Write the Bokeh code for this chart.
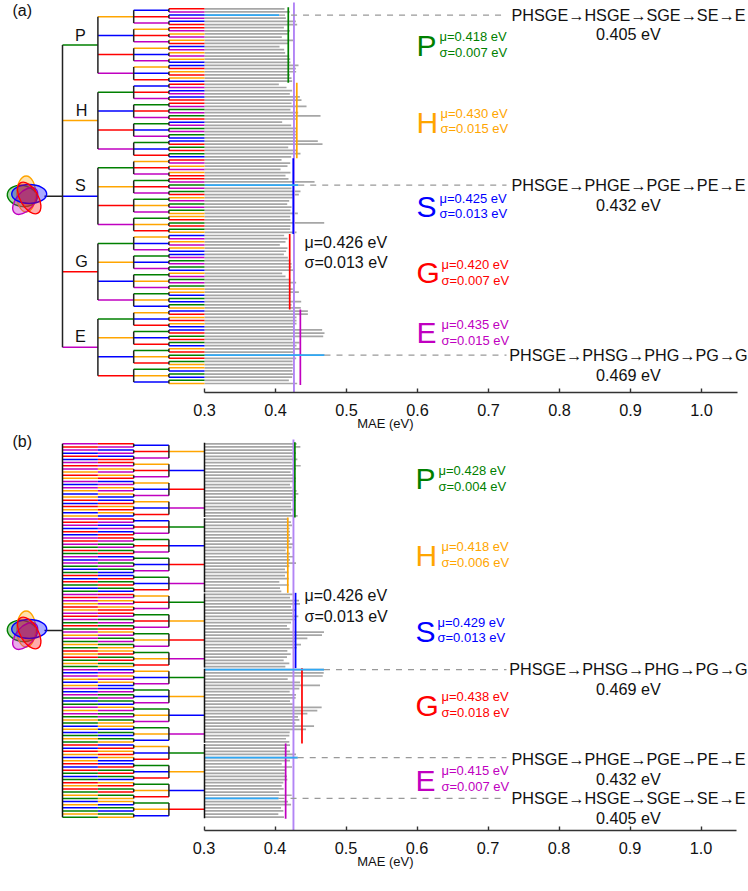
from itertools import permutations
import math
from bokeh.plotting import figure
from bokeh.layouts import column
from bokeh.models import Range1d, FixedTicker, NumeralTickFormatter
from bokeh.core.properties import value
from bokeh.embed import file_html
from bokeh.resources import INLINE

letters = ["P", "H", "S", "G", "E"]
colors = {"P": "#008000", "H": "#ffa500", "S": "#0000ff", "G": "#ff0000", "E": "#c000c0"}

# MAE (eV) of every removal order, in the order of panel (a)
mae_P = [.4127,.4202,.405,.4146,.4287,.4305,.4118,.4202,.4174,.4089,.4249,.4188,
         .4057,.4122,.4136,.4193,.4207,.4211,.4324,.4287,.4291,.4202,.4226,.4235]
mae_H = [.4047,.4155,.4235,.4202,.4343,.4366,.4226,.4437,.4211,.4319,.4634,.4296,
         .4094,.4221,.4296,.4287,.4287,.4296,.4596,.4662,.4179,.4305,.4352,.4221]
mae_S = [.4085,.4207,.4169,.4071,.4211,.4141,.4183,.4550,.432,.4226,.4352,.4329,
         .4240,.4193,.4165,.4226,.4211,.4315,.4207,.4211,.4686,.4211,.4207,.4296]
mae_G = [.4122,.4169,.4141,.4061,.4169,.4150,.4118,.4174,.4211,.4226,.4226,.4263,
         .4094,.4141,.4211,.4291,.4211,.4244,.4329,.4211,.4211,.4362,.4226,.4357]
mae_E = [.4456,.4456,.4296,.4296,.4296,.4258,.4657,.4690,.4672,.4235,.4338,.4296,
         .4343,.4258,.469,.4291,.4240,.4244,.4244,.4235,.4249,.4235,.4188,.4305]
mae_all = mae_P + mae_H + mae_S + mae_G + mae_E

overall_mu, overall_sigma = 0.426, 0.013
mu_a = [0.418, 0.430, 0.425, 0.420, 0.435]
sigma_a = [0.007, 0.015, 0.013, 0.007, 0.015]
mu_b = [0.428, 0.418, 0.429, 0.438, 0.415]
sigma_b = [0.004, 0.006, 0.013, 0.018, 0.007]

tick_values = [0.3, 0.4, 0.5, 0.6, 0.7, 0.8, 0.9, 1.0]
highlight_paths = {
    ("P", "H", "G", "S", "E"): ("PHSGE\u2192HSGE\u2192SGE\u2192SE\u2192E", 0.405),
    ("S", "H", "G", "P", "E"): ("PHSGE\u2192PHGE\u2192PGE\u2192PE\u2192E", 0.432),
    ("E", "S", "H", "P", "G"): ("PHSGE\u2192PHSG\u2192PHG\u2192PG\u2192G", 0.469),
}

perms = list(permutations(letters))
mae_of = dict(zip(perms, mae_all))

PX_PER_EV = 710.0
FONT = value("Liberation Sans")
GRAY, CYAN, PURPLE, DASH = "#a6a6a6", "#2fa8f5", "#b285f5", "#999999"
COLS = [62, 97.4, 133.2, 168.4, 204]
W = 748


def make_fig(height, frame_h, y0, dy, top, shift):
    """Frame spans the page px rows top..top+frame_h; y data are row numbers."""
    mx = lambda px: 0.3 + (px - 204 - shift) / PX_PER_EV
    ry = lambda py: (py - y0) / dy
    p = figure(width=W, height=height, output_backend="svg", toolbar_location=None,
               x_range=Range1d(mx(0), mx(W)),
               y_range=Range1d(ry(top + frame_h), ry(top)),
               y_axis_location=None, min_border_left=0, min_border_right=0,
               min_border_top=0, min_border_bottom=height - frame_h,
               outline_line_color=None, background_fill_color="white")
    p.grid.visible = False
    ax = p.xaxis[0]
    ax.ticker = FixedTicker(ticks=tick_values)
    ax.formatter = NumeralTickFormatter(format="0.0")
    ax.bounds = (0.3, 1.05)
    ax.major_tick_in, ax.major_tick_out = 4, 0
    ax.minor_tick_line_color = None
    ax.axis_line_color = ax.major_tick_line_color = "#333333"
    ax.axis_line_width = ax.major_tick_line_width = 1.4
    ax.major_label_text_font = "Liberation Sans"
    ax.major_label_text_font_size = "16.3px"
    ax.major_label_text_color = "#111111"
    ax.major_label_standoff = 11
    ax.axis_label = "\u00a0" * 6 + "MAE (eV)"
    ax.axis_label_text_font = "Liberation Sans"
    ax.axis_label_text_font_size = "13px"
    ax.axis_label_text_font_style = "normal"
    ax.axis_label_text_color = "#111111"
    ax.axis_label_standoff = -3
    return p, mx, ry


def text(p, mx, ry, px, py, s, color="#111111", size="16.2px", align="left"):
    p.text(x=[mx(px)], y=[ry(py)], text=[s], text_font=FONT, text_font_size=value(size),
           text_color=color, text_align=align, text_baseline="middle")


def flower(p, mx, ry, cx, cy):
    # offset from the centre in px, length, thickness, clockwise angle on screen
    petals = [("P", -5, 1, 30, 21, 10), ("H", -1, -1, 36, 19, 90), ("E", -2, 6, 32, 18, 131),
              ("S", 2, -1, 35, 19, 0), ("G", 2, 3, 35, 18, 60)]
    for key, dx, dy, length, thick, ang in petals:
        p.ellipse(x=[mx(cx + dx)], y=[ry(cy + dy)], width=length, height=thick,
                  width_units="screen", height_units="screen", angle=math.radians(-ang),
                  fill_color=colors[key], fill_alpha=0.33, line_color=colors[key], line_width=1.4)


def tree_lines(p, mx, segs, width):
    x0 = [mx(s[0]) for s in segs]
    x1 = [mx(s[1]) for s in segs]
    y0 = [s[2] for s in segs]
    y1 = [s[3] for s in segs]
    c = [s[4] for s in segs]
    p.segment(x0=x0, x1=x1, y0=y0, y1=y1, line_color=c, line_width=width)


def bars_and_means(p, mx, ry, vals, mu, top_px, bottom_px):
    rows = list(range(120))
    p.hbar(y=rows, left=0.3, right=vals, height=0.55, fill_color=GRAY, line_color=None)
    p.segment(x0=[overall_mu], x1=[overall_mu], y0=[ry(top_px)], y1=[ry(bottom_px)],
              line_color=PURPLE, line_width=1.9)
    for k, key in enumerate(letters):
        p.segment(x0=[mu[k]], x1=[mu[k]], y0=[24 * k - 0.5], y1=[24 * k + 23.5],
                  line_color=colors[key], line_width=1.7)


def highlights(p, mx, order):
    for path, (label, val) in highlight_paths.items():
        r = order.index(path)
        p.hbar(y=[r], left=0.3, right=[val], height=0.55, fill_color=CYAN, line_color=None)
        p.segment(x0=[val], x1=[mx(506)], y0=[r], y1=[r], line_color=DASH, line_width=1.3,
                  line_dash="6 6")


# ---------------- panel (a) ----------------
pa, mx, ry = make_fig(433, 393, 8.3, 3.157, 0, 0)
vals_a = [mae_of[q] for q in perms]
bars_and_means(pa, mx, ry, vals_a, mu_a, 2, 394)
highlights(pa, mx, perms)

col_segs, blk_segs = [], []
for d, span in zip([1, 2, 3, 4], [24, 6, 2, 1]):
    for start in range(0, 120, span):
        mid = start + (span - 1) / 2
        q = perms[start]
        col_segs.append((COLS[d - 1], COLS[d], mid, mid, colors[q[d - 1]]))
        if d < 4:
            sub = {24: 6, 6: 2, 2: 1}[span]
            lo = start + (sub - 1) / 2
            hi = start + span - sub + (sub - 1) / 2
            blk_segs.append((COLS[d], COLS[d], lo, hi, "#222222"))
blk_segs.append((COLS[0], COLS[0], 11.5, 107.5, "#222222"))
blk_segs.append((44, COLS[0], 59.5, 59.5, "#222222"))
tree_lines(pa, mx, col_segs, 1.5)
tree_lines(pa, mx, blk_segs, 1.5)
flower(pa, mx, ry, 26.7, 195)

text(pa, mx, ry, 12, 10, "(a)", size="16px")
for s, px, py in zip(letters, [80, 81, 80, 81, 80], [35, 110, 185, 261, 336]):
    text(pa, mx, ry, px, py, s, align="center")

big_y_a = [45, 122, 207, 273, 333]
mu_y_a = [36, 113, 199, 265, 325]
sig_y_a = [52, 128, 214, 281, 341]
mu_x_a = [439, 440, 439, 441, 441]
for k, key in enumerate(letters):
    text(pa, mx, ry, 416, big_y_a[k], key, colors[key], "30px")
    text(pa, mx, ry, mu_x_a[k], mu_y_a[k], f"\u03bc={mu_a[k]:.3f} eV", colors[key], "13px")
    text(pa, mx, ry, mu_x_a[k], sig_y_a[k], f"\u03c3={sigma_a[k]:.3f} eV", colors[key], "13px")
text(pa, mx, ry, 304, 243, f"\u03bc={overall_mu:.3f} eV", size="16px")
text(pa, mx, ry, 304, 263, f"\u03c3={overall_sigma:.3f} eV", size="16px")
for (path, (label, val)), y1, y2 in zip(highlight_paths.items(), [15, 185, 355], [34, 205, 375]):
    text(pa, mx, ry, 628, y1, label, align="center")
    text(pa, mx, ry, 628, y2, f"{val:.3f} eV", align="center")

# ---------------- panel (b) ----------------
pb, mxb, ryb = make_fig(438, 398, 443.3, 3.146, 433, -0.5)
# (b) is the same set of orders read from the other end
vals_b = [mae_of[tuple(reversed(q))] for q in perms]
bars_and_means(pb, mxb, ryb, vals_b, mu_b, 439, 832)
order_b = [tuple(reversed(q)) for q in perms]
highlights(pb, mxb, order_b)

col_segs, blk_segs = [], []
for r, q in enumerate(perms):
    col_segs.append((COLS[0], COLS[1], r, r, colors[q[4]]))
    col_segs.append((COLS[1], COLS[2], r, r, colors[q[3]]))
for start in range(0, 120, 2):
    col_segs.append((COLS[2], COLS[3], start + 0.5, start + 0.5, colors[perms[start][2]]))
    blk_segs.append((COLS[2], COLS[2], start, start + 1, "#222222"))
for start in range(0, 120, 6):
    col_segs.append((COLS[3], COLS[4], start + 2.5, start + 2.5, colors[perms[start][1]]))
    blk_segs.append((COLS[3], COLS[3], start + 0.5, start + 4.5, "#222222"))
for start in range(0, 120, 24):
    blk_segs.append((COLS[4], COLS[4], start - 0.3, start + 23.3, "#111111"))
blk_segs.append((COLS[0], COLS[0], 0, 119, "#111111"))
blk_segs.append((44, COLS[0], 59.5, 59.5, "#222222"))
tree_lines(pb, mxb, col_segs, 1.5)
tree_lines(pb, mxb, blk_segs, 1.5)
flower(pb, mxb, ryb, 26.7, 630)

text(pb, mxb, ryb, 12, 441, "(b)", size="16px")
big_y_b = [478, 555, 631, 706, 781]
mu_y_b = [470, 546, 622, 697, 771]
sig_y_b = [486, 562, 638, 713, 787]
mu_x_b = [438, 441, 437, 441, 441]
for k, key in enumerate(letters):
    text(pb, mxb, ryb, 415, big_y_b[k], key, colors[key], "30px")
    text(pb, mxb, ryb, mu_x_b[k], mu_y_b[k], f"\u03bc={mu_b[k]:.3f} eV", colors[key], "13px")
    text(pb, mxb, ryb, mu_x_b[k], sig_y_b[k], f"\u03c3={sigma_b[k]:.3f} eV", colors[key], "13px")
text(pb, mxb, ryb, 304, 595, f"\u03bc={overall_mu:.3f} eV", size="16px")
text(pb, mxb, ryb, 304, 616, f"\u03c3={overall_sigma:.3f} eV", size="16px")
for (path, (label, val)), y1, y2 in zip(highlight_paths.items(), [798, 759, 669], [818, 779, 689]):
    text(pb, mxb, ryb, 628, y1, label, align="center")
    text(pb, mxb, ryb, 628, y2, f"{val:.3f} eV", align="center")

page = column(pa, pb, spacing=0)
open("out.html", "w").write(file_html(page, INLINE))
